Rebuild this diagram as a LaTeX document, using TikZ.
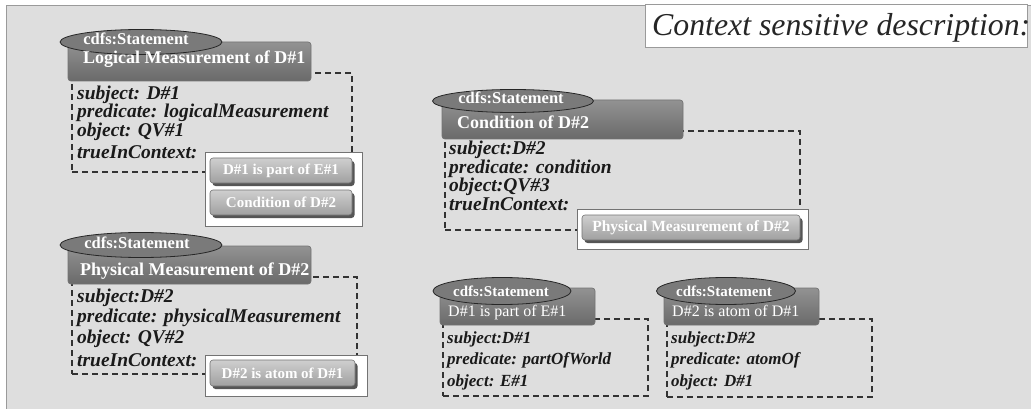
\documentclass[tikz,border=0pt]{standalone}
\usepackage{fontspec}
\setmainfont{Liberation Serif}
\usetikzlibrary{shapes.geometric,shadows}
\definecolor{panelc}{HTML}{DEDEDE}
\definecolor{borderc}{HTML}{9A9A9A}
\definecolor{ellc}{HTML}{7A7A7A}
\definecolor{titletop}{HTML}{929292}
\definecolor{titlebot}{HTML}{6A6A6A}
\definecolor{btntop}{HTML}{CFCFCF}
\definecolor{btnbot}{HTML}{A0A0A0}
\definecolor{shadowc}{HTML}{555555}
\definecolor{txtc}{HTML}{1A1A1A}
\tikzset{
  dashbox/.style={draw=black!80, dash pattern=on 6pt off 4pt, line width=1.2pt, inner sep=0pt, outer sep=0pt, anchor=north west},
  titlebox/.style={draw=black!55, rounded corners=3pt, top color=titletop, bottom color=titlebot, line width=0.7pt, inner sep=0pt, outer sep=0pt, anchor=north west},
  stmt/.style={ellipse, draw=black!85, fill=ellc, line width=0.8pt, inner sep=0pt},
  stmtbig/.style={anchor=base, inner sep=0pt, text=white, font=\bfseries\fontsize{16.5}{16.5}\selectfont},
  stmtsmall/.style={anchor=base, inner sep=0pt, text=white, font=\bfseries\fontsize{15}{15}\selectfont},
  ttlbig/.style={anchor=base west, inner sep=0pt, text=white, font=\bfseries\fontsize{18}{18}\selectfont},
  ttlsmall/.style={anchor=base west, inner sep=0pt, text=white, font=\fontsize{16}{16}\selectfont},
  propbig/.style={anchor=base west, inner sep=0pt, text=txtc, font=\bfseries\itshape\fontsize{19.5}{19.5}\selectfont},
  propsmall/.style={anchor=base west, inner sep=0pt, text=txtc, font=\bfseries\itshape\fontsize{17}{17}\selectfont},
  whitebox/.style={fill=white, draw=black!55, line width=0.7pt, inner sep=0pt, outer sep=0pt, anchor=north west},
  btn/.style={draw=black!55, rounded corners=3pt, top color=btntop, bottom color=btnbot, line width=0.6pt,
    inner sep=0pt, outer sep=0pt, anchor=north west, text=white, font=\bfseries\fontsize{15}{15}\selectfont,
    general shadow={fill=shadowc, draw=none, shadow xshift=2.5pt, shadow yshift=-3pt}},
}
\begin{document}
\begin{tikzpicture}[x=1pt,y=-1pt]
\useasboundingbox (0,0) rectangle (1031,409);
\fill[white] (0,0) rectangle (1031,409);
\fill[panelc] (6,5) rectangle (1031,409);
\draw[borderc, line width=0.8pt] (6,409) -- (6,5) -- (1031,5);

% heading
\node[fill=white, draw=borderc, line width=0.8pt, minimum width=382pt, minimum height=43pt, inner sep=0pt, anchor=north west] (hbox) at (645,4) {};
\node[anchor=base west, inner sep=0pt, text=black!85, font=\itshape\fontsize{31.8}{31.8}\selectfont] (head) at (652,36) {Context sensitive description:};

% ---------- Block 1: Logical Measurement of D#1
\node[dashbox, minimum width=280pt, minimum height=99pt] (d1) at (72,73) {};
\node[titlebox, minimum width=243pt, minimum height=39pt] (t1) at (68,42) {};
\node[stmt, minimum width=162pt, minimum height=25pt] (e1) at (141,42) {};
\node[stmtbig] (e1l) at (136,45) {cdfs:Statement};
\node[ttlbig] (t1l) at (83,64) {Logical Measurement of D\#1};
\node[propbig] (p1a) at (77,100) {subject: D\#1};
\node[propbig] (p1b) at (77,118) {predicate: logicalMeasurement};
\node[propbig] (p1c) at (77,137) {object: QV\#1};
\node[propbig] (p1d) at (77,158) {trueInContext:};
\node[whitebox, minimum width=157pt, minimum height=74pt] (w1) at (205,152) {};
\node[btn, minimum width=142pt, minimum height=25pt] (b1a) at (210,158) {D\#1 is part of E\#1};
\node[btn, minimum width=142pt, minimum height=25pt] (b1b) at (210,190) {Condition of D\#2};

% ---------- Block 2: Physical Measurement of D#2
\node[dashbox, minimum width=285pt, minimum height=97pt] (d2) at (72,277) {};
\node[titlebox, minimum width=243pt, minimum height=38pt] (t2) at (68,246) {};
\node[stmt, minimum width=162pt, minimum height=25pt] (e2) at (141,245) {};
\node[stmtbig] (e2l) at (137,248) {cdfs:Statement};
\node[ttlbig] (t2l) at (80,275) {Physical Measurement of D\#2};
\node[propbig] (p2a) at (77,302) {subject:D\#2};
\node[propbig] (p2b) at (77,322) {predicate: physicalMeasurement};
\node[propbig] (p2c) at (77,343) {object: QV\#2};
\node[propbig] (p2d) at (77,366) {trueInContext:};
\node[whitebox, minimum width=162pt, minimum height=41pt] (w2) at (205,355) {};
\node[btn, minimum width=145pt, minimum height=26pt] (b2a) at (210,360) {D\#2 is atom of D\#1};

% ---------- Block 3: Condition of D#2
\node[dashbox, minimum width=355pt, minimum height=99pt] (d3) at (445,131) {};
\node[titlebox, minimum width=241pt, minimum height=39pt] (t3) at (442,100) {};
\node[stmt, minimum width=161pt, minimum height=23pt] (e3) at (513,101) {};
\node[stmtbig] (e3l) at (511,104) {cdfs:Statement};
\node[ttlbig] (t3l) at (457,129) {Condition of D\#2};
\node[propbig] (p3a) at (449,155) {subject:D\#2};
\node[propbig] (p3b) at (449,174) {predicate: condition};
\node[propbig] (p3c) at (449,192) {object:QV\#3};
\node[propbig] (p3d) at (449,210) {trueInContext:};
\node[whitebox, minimum width=231pt, minimum height=40pt] (w3) at (577,209) {};
\node[btn, minimum width=218pt, minimum height=25pt, font=\bfseries\fontsize{15.5}{15.5}\selectfont] (b3a) at (582,215) {Physical Measurement of D\#2};

% ---------- Block 4: D#1 is part of E#1
\node[dashbox, minimum width=205pt, minimum height=77pt] (d4) at (443,319) {};
\node[titlebox, minimum width=155pt, minimum height=37pt] (t4) at (440,288) {};
\node[stmt, minimum width=138pt, minimum height=27pt] (e4) at (502,291) {};
\node[stmtsmall] (e4l) at (501,296) {cdfs:Statement};
\node[ttlsmall] (t4l) at (448,316) {D\#1 is part of E\#1};
\node[propsmall] (p4a) at (447,343) {subject:D\#1};
\node[propsmall] (p4b) at (447,364) {predicate: partOfWorld};
\node[propsmall] (p4c) at (447,386) {object: E\#1};

% ---------- Block 5: D#2 is atom of D#1
\node[dashbox, minimum width=205pt, minimum height=78pt] (d5) at (667,319) {};
\node[titlebox, minimum width=155pt, minimum height=37pt] (t5) at (664,288) {};
\node[stmt, minimum width=139pt, minimum height=27pt] (e5) at (726,291) {};
\node[stmtsmall] (e5l) at (724,296) {cdfs:Statement};
\node[ttlsmall] (t5l) at (672,316) {D\#2 is atom of D\#1};
\node[propsmall] (p5a) at (671,343) {subject:D\#2};
\node[propsmall] (p5b) at (671,364) {predicate: atomOf};
\node[propsmall] (p5c) at (671,386) {object: D\#1};
\end{tikzpicture}
\end{document}
